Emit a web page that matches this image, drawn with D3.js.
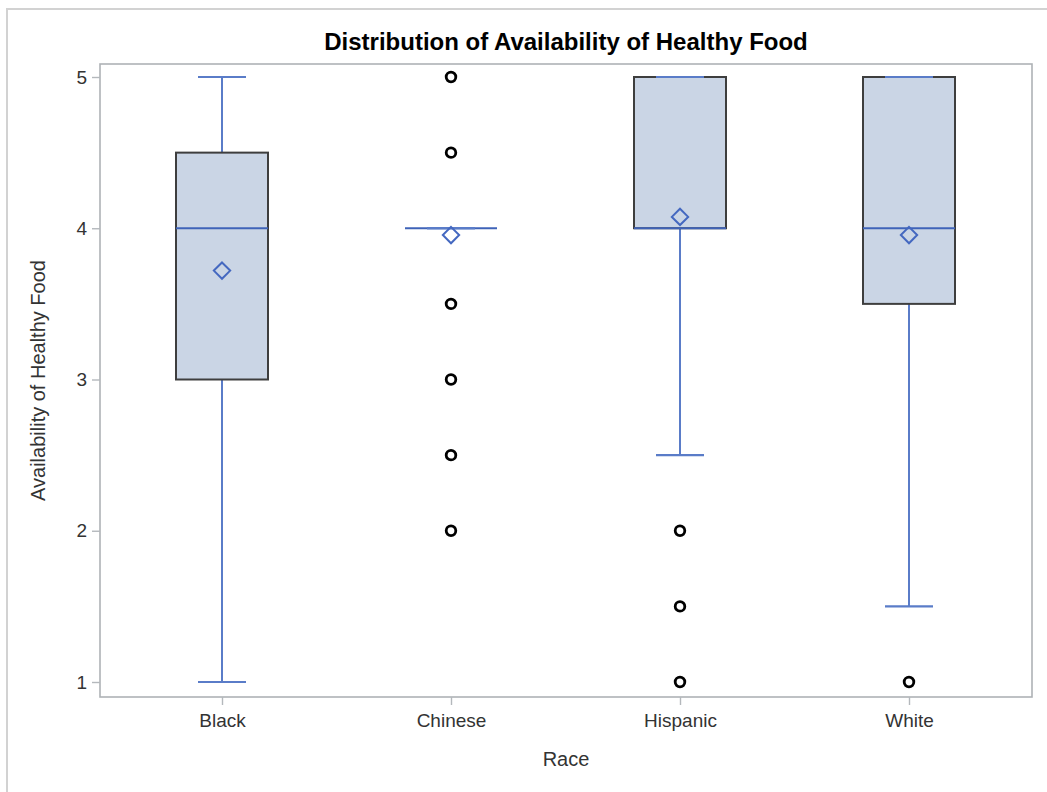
<!DOCTYPE html>
<html>
<head>
<meta charset="utf-8">
<script src="https://cdn.jsdelivr.net/npm/d3@7"></script>
<style>
  html, body { margin: 0; padding: 0; background: #fff; }
  svg { display: block; }
  text { font-family: Arial, "Liberation Sans", sans-serif; }
</style>
</head>
<body>
<svg id="chart" width="1047" height="792"></svg>
<script>
// Box plot summary per race group
const categories   = ["Black", "Chinese", "Hispanic", "White"];
const whiskerLow   = [1, 4, 2.5, 1.5];
const q1           = [3, 4, 4, 3.5];
const median       = [4, 4, 4, 4];
const q3           = [4.5, 4, 5, 5];
const whiskerHigh  = [5, 4, 5, 5];
const means        = [3.72, 3.955, 4.075, 3.955];
const outliers     = [[], [5, 4.5, 3.5, 3, 2.5, 2], [2, 1.5, 1], [1]];
const yTicks       = [1, 2, 3, 4, 5];

const svg = d3.select("#chart");
const W = 1047, H = 792;
const plot = { left: 100, right: 1032, top: 64, bottom: 697 };

// outer graph border (left and top edges visible)
svg.append("path")
  .attr("d", `M7,${H} L7,9 L${W},9`)
  .attr("fill", "none")
  .attr("stroke", "#d2d2d2")
  .attr("stroke-width", 2);

const x = d3.scalePoint().domain(categories).range([222, 909]);
const y = d3.scaleLinear().domain([1, 5]).range([682, 77]);

const boxW = 92, capW = 48;
const blue = "#5a7cc8", medBlue = "#3f63b8";

// plot frame
svg.append("rect")
  .attr("x", plot.left).attr("y", plot.top)
  .attr("width", plot.right - plot.left).attr("height", plot.bottom - plot.top)
  .attr("fill", "none").attr("stroke", "#aeb2b6").attr("stroke-width", 1.6);

// axes
const yAxis = svg.append("g")
  .attr("transform", `translate(${plot.left},0)`)
  .call(d3.axisLeft(y).tickValues(yTicks).tickFormat(d3.format("d")).tickSize(8).tickPadding(5));
const xAxis = svg.append("g")
  .attr("transform", `translate(0,${plot.bottom})`)
  .call(d3.axisBottom(x).tickSize(8).tickPadding(9));
[yAxis, xAxis].forEach(g => {
  g.select(".domain").remove();
  g.selectAll(".tick line").attr("stroke", "#b4b8bc").attr("stroke-width", 1.4);
  g.selectAll(".tick text").attr("fill", "#333").style("font-size", "19px")
    .style("font-family", "Arial, 'Liberation Sans', sans-serif");
});

const groups = svg.append("g").selectAll("g")
  .data(categories.map((c, i) => ({
    c, lo: whiskerLow[i], q1: q1[i], med: median[i], q3: q3[i], hi: whiskerHigh[i],
    mean: means[i], out: outliers[i]
  })))
  .join("g")
  .attr("transform", d => `translate(${x(d.c)},0)`);

// whisker stems
groups.append("line")
  .attr("x1", 0).attr("x2", 0)
  .attr("y1", d => y(d.q3)).attr("y2", d => y(d.hi))
  .attr("stroke", blue).attr("stroke-width", 2);
groups.append("line")
  .attr("x1", 0).attr("x2", 0)
  .attr("y1", d => y(d.q1)).attr("y2", d => y(d.lo))
  .attr("stroke", blue).attr("stroke-width", 2);

// boxes
groups.append("rect")
  .attr("x", -boxW / 2).attr("width", boxW)
  .attr("y", d => y(d.q3)).attr("height", d => y(d.q1) - y(d.q3))
  .attr("fill", "#cad5e5").attr("stroke", "#3e3e3e").attr("stroke-width", 2);

// median
groups.append("line")
  .attr("x1", -boxW / 2).attr("x2", boxW / 2)
  .attr("y1", d => y(d.med)).attr("y2", d => y(d.med))
  .attr("stroke", medBlue).attr("stroke-width", 2);

// whisker caps
groups.selectAll("line.cap")
  .data(d => [d.lo, d.hi])
  .join("line").attr("class", "cap")
  .attr("x1", -capW / 2).attr("x2", capW / 2)
  .attr("y1", v => y(v)).attr("y2", v => y(v))
  .attr("stroke", blue).attr("stroke-width", 2.2);

// mean diamonds
groups.append("path")
  .attr("d", d3.symbol(d3.symbolDiamond2, 170))
  .attr("transform", d => `translate(0,${y(d.mean)})`)
  .attr("fill", "none").attr("stroke", "#4468c0").attr("stroke-width", 2);

// outliers
groups.selectAll("circle")
  .data(d => d.out)
  .join("circle")
  .attr("cx", 0).attr("cy", v => y(v)).attr("r", 4.8)
  .attr("fill", "none").attr("stroke", "#000").attr("stroke-width", 2.8);

// title and axis labels
svg.append("text")
  .attr("x", (plot.left + plot.right) / 2).attr("y", 50)
  .attr("text-anchor", "middle")
  .style("font-size", "24px").style("font-weight", "bold").attr("fill", "#000")
  .text("Distribution of Availability of Healthy Food");

svg.append("text")
  .attr("x", (plot.left + plot.right) / 2).attr("y", 766)
  .attr("text-anchor", "middle")
  .style("font-size", "20px").attr("fill", "#333")
  .text("Race");

svg.append("text")
  .attr("transform", `translate(45,${(plot.top + plot.bottom) / 2}) rotate(-90)`)
  .attr("text-anchor", "middle")
  .style("font-size", "20px").attr("fill", "#333")
  .text("Availability of Healthy Food");
</script>
</body>
</html>
